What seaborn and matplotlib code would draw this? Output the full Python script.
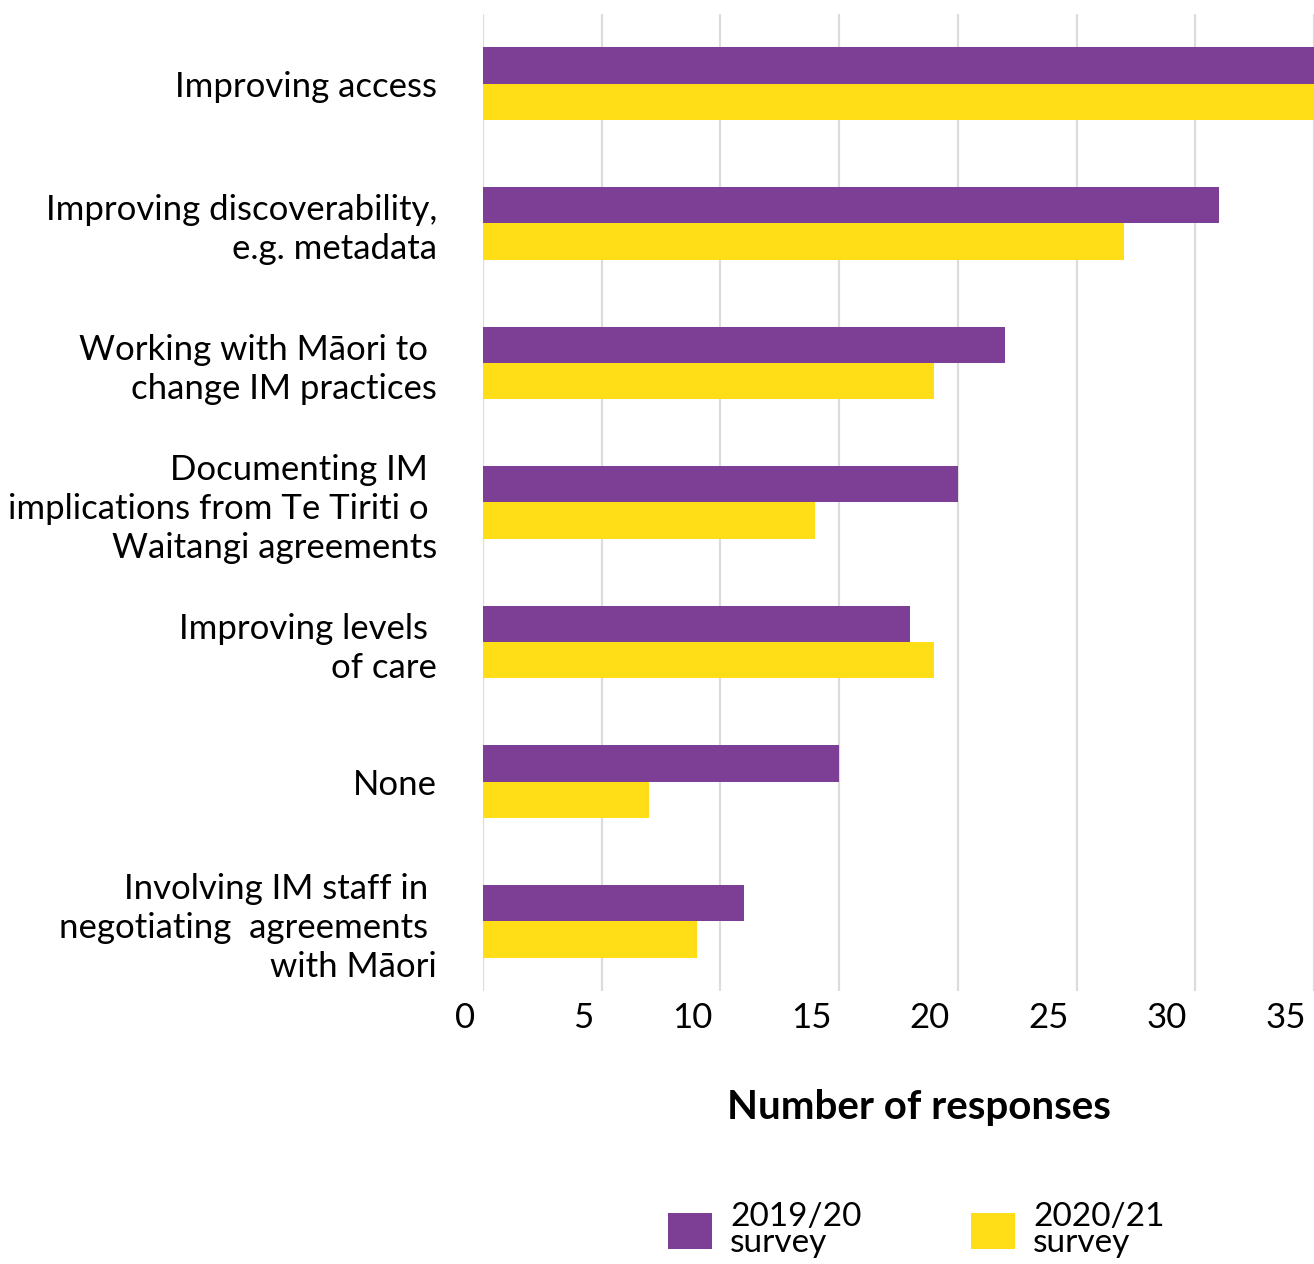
import matplotlib
matplotlib.use("Agg")
import matplotlib.pyplot as plt
import matplotlib.transforms as mtransforms
import seaborn as sns
import pandas as pd

# Categories (top to bottom) and number of responses per survey
categories = [
    "Improving access",
    "Improving discoverability,\ne.g. metadata",
    "Working with Māori to \nchange IM practices",
    "Documenting IM \nimplications from Te Tiriti o \nWaitangi agreements",
    "Improving levels \nof care",
    "None",
    "Involving IM staff in \nnegotiating  agreements \nwith Māori",
]
survey_2019_20 = [37, 31, 22, 20, 18, 15, 11]
survey_2020_21 = [36, 27, 19, 14, 19, 7, 9]
series_names = ["2019/20\nsurvey", "2020/21\nsurvey"]
x_ticks = [0, 5, 10, 15, 20, 25, 30, 35]

PURPLE = "#7D3F96"
YELLOW = "#FFDE17"

df = pd.DataFrame({
    "category": categories * 2,
    "responses": survey_2019_20 + survey_2020_21,
    "survey": [series_names[0]] * len(categories) + [series_names[1]] * len(categories),
})

sns.set_theme(style="white")
plt.rcParams["font.family"] = ["Lato", "DejaVu Sans"]
plt.rcParams["text.color"] = "black"
plt.rcParams["xtick.color"] = "black"
plt.rcParams["ytick.color"] = "black"
plt.rcParams["axes.labelcolor"] = "black"

W, H = 1314, 1264
fig = plt.figure(figsize=(W / 100, H / 100), dpi=100)
ax = fig.add_axes([483 / W, 1 - 991 / H, 831 / W, 977 / H])

sns.barplot(
    data=df, y="category", x="responses", hue="survey", orient="h",
    order=categories, hue_order=series_names,
    palette=[PURPLE, YELLOW], width=0.52, saturation=1,
    linewidth=0, ax=ax, zorder=3,
)

ax.set_xlim(0, 34.77)
ax.set_ylim(6.5, -0.5)
ax.set_xticks(x_ticks)
ax.grid(axis="x", color="#DCDCDC", linewidth=1.6, zorder=0)
ax.grid(axis="y", visible=False)
for s in ax.spines.values():
    s.set_visible(False)

ax.set_ylabel("")
ax.tick_params(axis="y", length=0, pad=33, labelsize=25)
for lbl in ax.get_yticklabels():
    lbl.set_multialignment("right")
    lbl.set_linespacing(1.27)

ax.tick_params(axis="x", length=0, pad=8, labelsize=25)
offset = mtransforms.ScaledTranslation(-8 / 100, 0, fig.dpi_scale_trans)
for lbl in ax.get_xticklabels():
    lbl.set_horizontalalignment("right")
    lbl.set_transform(lbl.get_transform() + offset)

ax.set_xlabel("Number of responses", fontsize=29, fontweight="bold")
ax.xaxis.set_label_coords((919 - 483) / 831, -0.100)

handles, labels = ax.get_legend_handles_labels()
ax.legend_.remove()
leg = fig.legend(
    handles, labels, loc="center left", bbox_to_anchor=(645 / W, 1 - 1230 / H),
    ncol=2, frameon=False, fontsize=24, handlelength=1.3, handleheight=1.3,
    handletextpad=0.55, columnspacing=3.3, borderpad=0.2,
)
for t in leg.get_texts():
    t.set_linespacing(0.85)

fig.savefig("out.png", dpi=100)
